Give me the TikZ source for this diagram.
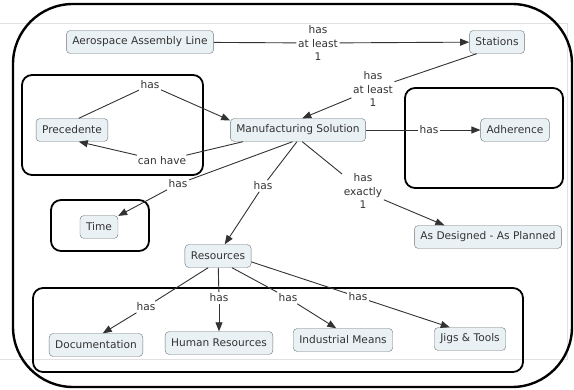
\documentclass[tikz,border=0pt]{standalone}
\usepackage{fontspec}
\setmainfont{DejaVu Sans}
\usetikzlibrary{arrows.meta, positioning}
\definecolor{conceptfill}{RGB}{234,241,244}
\definecolor{conceptline}{RGB}{110,118,122}
\definecolor{linkgray}{RGB}{50,50,50}
\definecolor{pagegray}{RGB}{225,225,225}
\newcommand{\cmapfont}{\fontsize{10.6}{13.5}\selectfont}

\begin{document}
\begin{tikzpicture}[
    x=1pt, y=-1pt,
    concept/.style={draw=conceptline, fill=conceptfill, rounded corners=4pt, font=\cmapfont, text=black!80, inner xsep=6pt, minimum height=23pt},
    linkname/.style={font=\cmapfont, align=center, inner sep=1.5pt, text=linkgray},
    group/.style={draw, line width=1.8pt, rounded corners=10pt},
    plain/.style={draw=linkgray, line width=0.9pt},
    arr/.style={draw=linkgray, line width=0.9pt, -{Triangle[length=9pt,width=7pt]}}
]
    \useasboundingbox (0,0) rectangle (574,390);
    % page edge of the screenshot
    \draw[pagegray, line width=0.6pt] (0,23) -- (567,23) -- (567,359) -- (0,359);
    % outer frame
    \draw[line width=2.4pt, rounded corners=60pt] (13,4) rectangle (572,387);

    % groups
    \draw[group] (22,75) rectangle (203,175);
    \draw[group] (405,88) rectangle (563,188);
    \draw[group] (51,200) rectangle (149,251);
    \draw[group] (33,288) rectangle (523,372);

    % concepts
    \node[concept] (aal) at (140,42) {Aerospace Assembly Line};
    \node[concept] (st) at (497,42) {Stations};
    \node[concept] (prec) at (72,130) {Precedente};
    \node[concept] (ms) at (298,130) {Manufacturing Solution};
    \node[concept] (adh) at (515,130) {Adherence};
    \node[concept] (time) at (99,227) {Time};
    \node[concept] (adp) at (488,237) {As Designed - As Planned};
    \node[concept] (res) at (218,256) {Resources};
    \node[concept] (doc) at (96,345) {Documentation};
    \node[concept] (hr) at (219,343) {Human Resources};
    \node[concept] (im) at (343,340) {Industrial Means};
    \node[concept] (jt) at (470,339) {Jigs \& Tools};

    % link labels
    \node[linkname] (l1) at (318,43) {has\\at least\\1};
    \node[linkname] (l2) at (373,89) {has\\at least\\1};
    \node[linkname] (l3) at (150,85) {has};
    \node[linkname] (l4) at (162,161) {can have};
    \node[linkname] (l5) at (429,130) {has};
    \node[linkname] (l6) at (178,184) {has};
    \node[linkname] (l7) at (263,186) {has};
    \node[linkname] (l8) at (363,191) {has\\exactly\\1};
    \node[linkname] (l9) at (146,307) {has};
    \node[linkname] (l10) at (219,298) {has};
    \node[linkname] (l11) at (288,298) {has};
    \node[linkname] (l12) at (358,297) {has};

    % connectors
    \draw[plain] (aal) -- (l1);
    \draw[arr] (l1) -- (st);
    \draw[plain] (st.-150) -- (l2);
    \draw[arr] (l2) -- (ms.70);
    \draw[plain] (prec.60) -- (l3);
    \draw[arr] (l3) -- (ms.172);
    \draw[plain] (ms.192) -- (l4);
    \draw[arr] (l4) -- (prec.-60);
    \draw[plain] (ms) -- (l5);
    \draw[arr] (l5) -- (adh);
    \draw[plain] (ms.-115) -- (l6);
    \draw[arr] (l6) -- (time.30);
    \draw[plain] (ms.-95) -- (l7);
    \draw[arr] (l7) -- (res.60);
    \draw[plain] (ms.-70) -- (l8);
    \draw[arr] (l8) -- (adp.165);
    \draw[plain] (res.-130) -- (l9);
    \draw[arr] (l9) -- (doc.60);
    \draw[plain] (res) -- (l10);
    \draw[arr] (l10) -- (hr);
    \draw[plain] (res.-40) -- (l11);
    \draw[arr] (l11) -- (im.120);
    \draw[plain] (res.-10) -- (l12);
    \draw[arr] (l12) -- (jt.150);
\end{tikzpicture}
\end{document}
